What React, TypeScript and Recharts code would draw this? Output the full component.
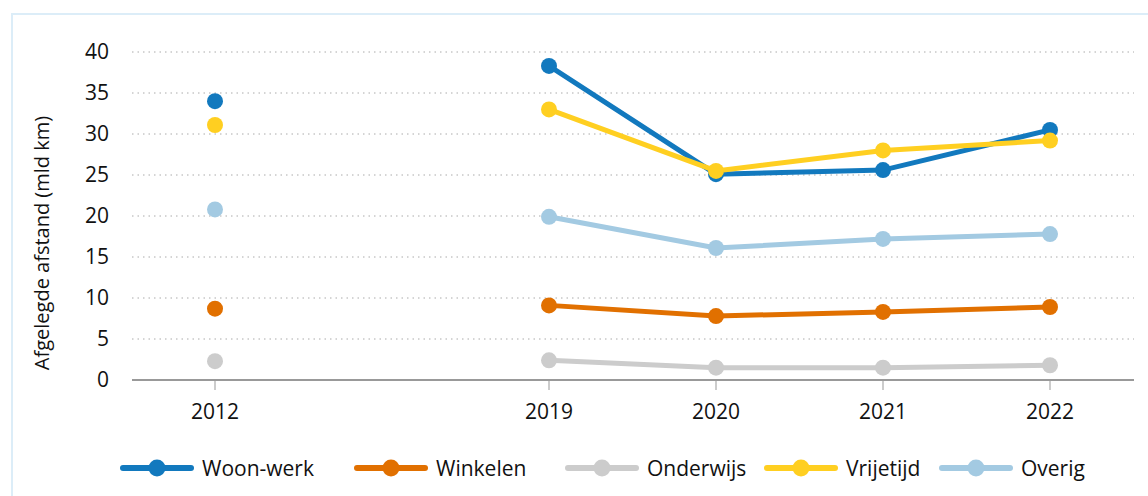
import { CartesianGrid, Label, Line, LineChart, XAxis, YAxis } from "recharts"

const years = ["2012", "", "2019", "2020", "2021", "2022"]

const woonWerk = [34.0, null, 38.3, 25.1, 25.6, 30.5]
const winkelen = [8.7, null, 9.1, 7.8, 8.3, 8.9]
const onderwijs = [2.3, null, 2.4, 1.5, 1.5, 1.8]
const vrijetijd = [31.1, null, 33.0, 25.5, 28.0, 29.2]
const overig = [20.8, null, 19.9, 16.1, 17.2, 17.8]

const yTicks = [0, 5, 10, 15, 20, 25, 30, 35, 40]

const series = [
  { key: "woonWerk", name: "Woon-werk", color: "#1279be", values: woonWerk },
  { key: "winkelen", name: "Winkelen", color: "#e17000", values: winkelen },
  { key: "onderwijs", name: "Onderwijs", color: "#cccccc", values: onderwijs },
  { key: "vrijetijd", name: "Vrijetijd", color: "#ffcf21", values: vrijetijd },
  { key: "overig", name: "Overig", color: "#a3cae2", values: overig },
]

// legend item left edges (layout only)
const legendLeft = [120, 354, 565, 764, 939]

const data = years.map((year, i) => {
  const row: Record<string, string | number | null> = { year }
  series.forEach((s) => {
    row[s.key] = s.values[i]
  })
  return row
})

const font = "'Open Sans', 'Noto Sans', sans-serif"

function XTick(props: any) {
  const { x, payload } = props
  if (!payload.value) return null
  return (
    <g>
      <line x1={x} x2={x} y1={380} y2={390} stroke="#999999" strokeWidth={1} />
      <text x={x} y={419} textAnchor="middle" fontSize={21} fill="#111111" fontFamily={font}>
        {payload.value}
      </text>
    </g>
  )
}

function LegendRow() {
  return (
    <div style={{ fontFamily: font, fontSize: 21, color: "#111111", whiteSpace: "nowrap" }}>
      {series.map((s, i) => (
        <div
          key={s.key}
          style={{ position: "absolute", top: 452, left: legendLeft[i], display: "flex", alignItems: "center" }}
        >
          <svg width={74} height={32}>
            <line x1={3} x2={71} y1={16} y2={16} stroke={s.color} strokeWidth={6} strokeLinecap="round" />
            <circle cx={37} cy={16} r={8.5} fill={s.color} />
          </svg>
          <span style={{ marginLeft: 8 }}>{s.name}</span>
        </div>
      ))}
    </div>
  )
}

export default function App() {
  return (
    <div style={{ position: "absolute", left: 0, top: 0, width: 1148, height: 496, background: "#fff" }}>
      <div
        style={{
          position: "absolute",
          left: 11,
          top: 13,
          width: 1137,
          height: 483,
          borderLeft: "2px solid #dcedf8",
          borderTop: "2px solid #dcedf8",
        }}
      />
      <div style={{ position: "absolute", left: 0, top: 0 }}>
        <LineChart width={1148} height={496} data={data} margin={{ top: 52, right: 14, bottom: 86, left: 0 }}>
          <CartesianGrid vertical={false} stroke="#aaaaaa" strokeDasharray="1.5 4" />
          <XAxis
            dataKey="year"
            axisLine={{ stroke: "#999999", strokeWidth: 2 }}
            tickLine={false}
            tick={<XTick />}
            interval={0}
            height={30}
            padding={{ left: 83, right: 84 }}
          />
          <YAxis
            domain={[0, 40]}
            ticks={yTicks}
            width={132}
            axisLine={false}
            tickLine={false}
            tickSize={0}
            tickMargin={23}
            tick={{ fontSize: 21, fill: "#111111", fontFamily: font }}
          >
            <Label
              content={(props: any) => {
                const vb = props.viewBox
                const cy = vb.y + vb.height / 2 + 27
                return (
                  <text
                    x={49}
                    y={cy}
                    transform={`rotate(-90 49 ${cy})`}
                    textAnchor="middle"
                    fontSize={20}
                    fill="#111111"
                    fontFamily={font}
                  >
                    Afgelegde afstand (mld km)
                  </text>
                )
              }}
            />
          </YAxis>
          {series.map((s) => (
            <Line
              key={s.key}
              dataKey={s.key}
              name={s.name}
              stroke={s.color}
              strokeWidth={5}
              dot={{ r: 8, fill: s.color, stroke: "none" }}
              activeDot={false}
              connectNulls={false}
              isAnimationActive={false}
            />
          ))}
        </LineChart>
      </div>
      <LegendRow />
    </div>
  )
}
